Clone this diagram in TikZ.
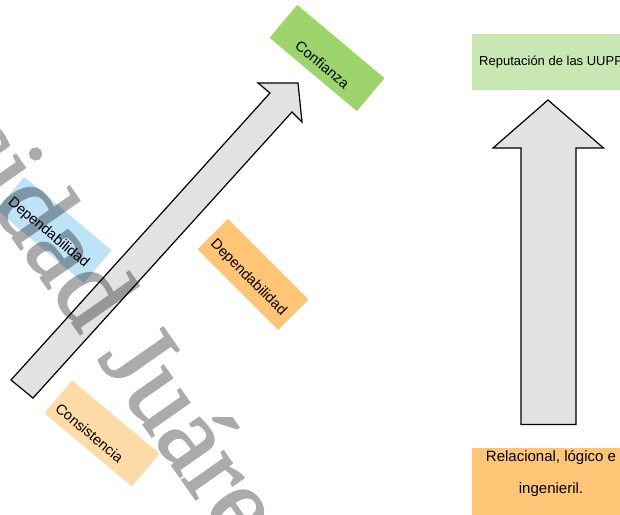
\documentclass[tikz,border=0pt]{standalone}
\usepackage{fontspec}
\setmainfont{Liberation Sans}
\newfontfamily\wmfont[FakeBold=1.6]{Liberation Serif}
\begin{document}
\begin{tikzpicture}[x=1pt,y=-1pt,
  tag/.style={draw=none, inner sep=0pt, minimum width=114pt, minimum height=43pt},
  tagtext/.style={inner sep=0pt, font=\fontsize{14.5}{16}\selectfont, text=black},
  blockarrow/.style={draw=black, line width=1.2pt, fill=arrowgray, line join=miter},
  plain/.style={inner sep=0pt, text=black},
  wm/.style={inner sep=0pt, font=\wmfont\fontsize{110}{110}\selectfont, text=black}
]
\definecolor{arrowgray}{HTML}{E2E2E2}
\definecolor{palegreen}{HTML}{C9E7B2}
\definecolor{leafgreen}{HTML}{9ED46C}
\definecolor{softorange}{HTML}{FFC577}
\definecolor{paleorange}{HTML}{FFDBA8}
\definecolor{skyblue}{HTML}{BEE2F6}

\useasboundingbox (0,0) rectangle (620,514);
\clip (0,0) rectangle (620,514);

% boxes on the right
\node[draw=none, fill=palegreen, inner sep=0pt, minimum width=160pt, minimum height=56.5pt, anchor=north west] (rep) at (472,33.5) {};
\node[draw=none, fill=softorange, inner sep=0pt, minimum width=160pt, minimum height=75pt, anchor=north west] (rel) at (472,447.5) {};

% tilted tags
\node[tag, fill=leafgreen, rotate=-40] (conf) at (327,58) {};
\node[tag, fill=skyblue, rotate=-40] (depa) at (54,230) {};
\node[tag, fill=softorange, rotate=-45] (depb) at (253,274.5) {};
\node[tag, fill=paleorange, rotate=-40] (cons) at (102,433.5) {};

% diagonal block arrow
\coordinate (dA) at (11,380);
\coordinate (dN1) at (270,93);
\coordinate (dL) at (258,83);
\coordinate (dT) at (298,83);
\coordinate (dR) at (302,122);
\coordinate (dN2) at (292,112);
\coordinate (dB) at (33,398);
\draw[blockarrow] (dA) -- (dN1) -- (dL) -- (dT) -- (dR) -- (dN2) -- (dB) -- cycle;

% vertical block arrow
\coordinate (vT) at (548,100);
\coordinate (vL) at (493,148);
\coordinate (vSL) at (521,148);
\coordinate (vBL) at (521,424.5);
\coordinate (vBR) at (576,424.5);
\coordinate (vSR) at (576,148);
\coordinate (vR) at (603.5,148);
\draw[blockarrow] (vT) -- (vL) -- (vSL) -- (vBL) -- (vBR) -- (vSR) -- (vR) -- cycle;

% labels
\node[tagtext, rotate=-40] (conf-t) at (322.5,64.5) {Confianza};
\node[tagtext, rotate=-40] (depa-t) at (48.3,232.8) {Dependabilidad};
\node[tagtext, rotate=-45] (depb-t) at (248.3,277.8) {Dependabilidad};
\node[tagtext, rotate=-40] (cons-t) at (89.5,432.8) {Consistencia};

\node[plain, anchor=base west, font=\fontsize{13}{15}\selectfont] (rep-t) at (479,65) {Reputación de las UUPP};
\node[plain, anchor=base, font=\fontsize{15}{17}\selectfont] (rel-t1) at (551,461.7) {Relacional, lógico e};
\node[plain, anchor=base, font=\fontsize{15}{17}\selectfont] (rel-t2) at (551,493.3) {ingenieril.};

% watermark lettering, translucent as a whole
\begin{scope}[transparency group, opacity=0.33]
\node[wm, rotate=-55, anchor=base west] (mark) at (-227.5,-105) {Universidad Juárez};
\end{scope}
\end{tikzpicture}
\end{document}
